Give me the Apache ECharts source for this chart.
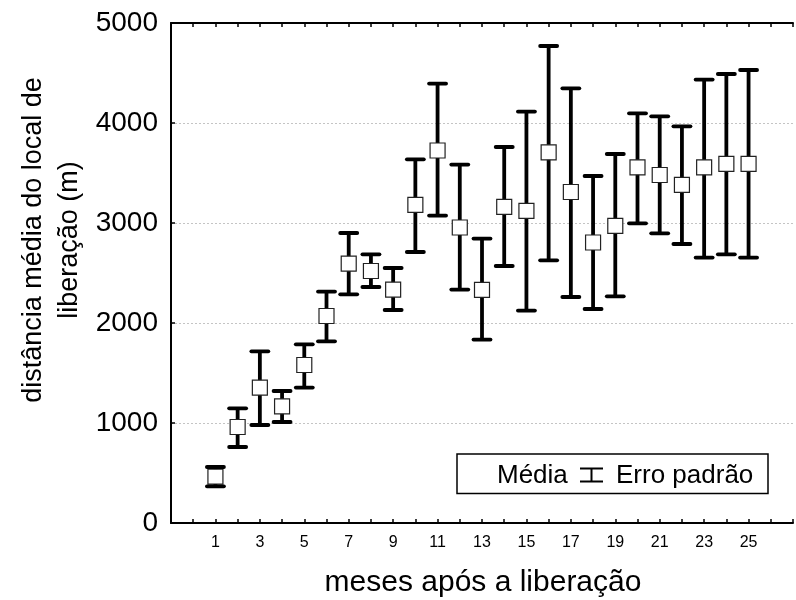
<!DOCTYPE html>
<html>
<head>
<meta charset="utf-8">
<script src="https://cdn.jsdelivr.net/npm/echarts@6/dist/echarts.min.js"></script>
<style>html,body{margin:0;padding:0;background:#fff}#c{width:796px;height:600px}</style>
</head>
<body>
<div id="c"></div>
<script>
const months = [1,2,3,4,5,6,7,8,9,10,11,12,13,14,15,16,17,18,19,20,21,22,23,24,25];
const means = [464, 960, 1354, 1166, 1580, 2070, 2594, 2520, 2334, 3182, 3725, 2955, 2332, 3162, 3122, 3707, 3310, 2805, 2972, 3557, 3480, 3382, 3557, 3592, 3592];
const upper = [560, 1147, 1717, 1320, 1787, 2314, 2900, 2687, 2550, 3637, 4394, 3584, 2844, 3760, 4114, 4770, 4347, 3470, 3690, 4097, 4067, 3967, 4434, 4490, 4530];
const lower = [367, 760, 980, 1010, 1354, 1817, 2287, 2360, 2130, 2710, 3074, 2334, 1834, 2570, 2124, 2627, 2260, 2140, 2267, 2997, 2897, 2790, 2654, 2687, 2654];
const xTickLabels = [1,3,5,7,9,11,13,15,17,19,21,23,25];
const yTicks = [0,1000,2000,3000,4000,5000];
const xTitle = 'meses após a liberação';
const yTitle = 'distância média do local de\nliberação (m)';
const legendMean = 'Média';
const legendErr = 'Erro padrão';

const FONT = '"Liberation Sans", Arial, Helvetica, sans-serif';
const data = months.map((m, i) => [m, means[i], lower[i], upper[i]]);

const chart = echarts.init(document.getElementById('c'), null, {renderer: 'canvas'});

function renderItem(params, api) {
  const x = api.value(0);
  const pM = api.coord([x, api.value(1)]);
  const pLo = api.coord([x, api.value(2)]);
  const pHi = api.coord([x, api.value(3)]);
  const capHalf = 8.5;
  const sq = 15;
  const lineStyle = {stroke: '#000', lineWidth: 3.8, lineCap: 'round'};
  return {
    type: 'group',
    children: [
      {type: 'line', shape: {x1: pHi[0], y1: pHi[1], x2: pLo[0], y2: pLo[1]}, style: {stroke: '#000', lineWidth: 3.8}},
      {type: 'rect', shape: {x: pM[0] - sq / 2, y: pM[1] - sq / 2, width: sq, height: sq}, style: {fill: '#fff', stroke: '#222', lineWidth: 1.2}},
      {type: 'line', shape: {x1: pHi[0] - capHalf, y1: pHi[1], x2: pHi[0] + capHalf, y2: pHi[1]}, style: lineStyle},
      {type: 'line', shape: {x1: pLo[0] - capHalf, y1: pLo[1], x2: pLo[0] + capHalf, y2: pLo[1]}, style: lineStyle}
    ]
  };
}

const axisLineStyle = {color: '#000', width: 2};

chart.setOption({
  animation: false,
  backgroundColor: '#fff',
  textStyle: {fontFamily: FONT},
  grid: {left: 171, right: -10, top: 23, bottom: 77, containLabel: false},
  xAxis: [
    {
      type: 'value', min: -1, max: 27, interval: 1, position: 'bottom',
      axisLine: {show: true, onZero: false, lineStyle: axisLineStyle},
      axisTick: {show: true, inside: true, length: 4, lineStyle: {color: '#000', width: 1.5}},
      axisLabel: {
        show: true, fontSize: 16, color: '#000', fontFamily: FONT, margin: 12,
        showMinLabel: true, showMaxLabel: true,
        formatter: v => xTickLabels.indexOf(v) >= 0 ? String(v) : ''
      },
      splitLine: {show: false}
    },
    {
      type: 'value', min: -1, max: 27, interval: 1, position: 'top',
      axisLine: {show: true, onZero: false, lineStyle: axisLineStyle},
      axisTick: {show: true, inside: true, length: 4, lineStyle: {color: '#000', width: 1.5}},
      axisLabel: {show: false},
      splitLine: {show: false}
    }
  ],
  yAxis: {
    type: 'value', min: yTicks[0], max: yTicks[yTicks.length - 1], interval: 1000,
    axisLine: {show: true, onZero: false, lineStyle: axisLineStyle},
    axisTick: {show: true, inside: true, length: 4, lineStyle: {color: '#000', width: 1.5}},
    axisLabel: {show: true, fontSize: 28, color: '#000', fontFamily: FONT, margin: 13, formatter: v => String(v)},
    splitLine: {show: true, lineStyle: {color: '#c4c4c4', width: 1, type: [2, 2]}}
  },
  series: [{
    type: 'custom',
    xAxisIndex: 0, yAxisIndex: 0,
    renderItem: renderItem,
    data: data,
    clip: false,
    z: 5
  }],
  graphic: [
    {
      type: 'text', x: 52, y: 240, rotation: Math.PI / 2,
      style: {text: yTitle, fill: '#000', font: '27px ' + FONT, align: 'center', verticalAlign: 'middle', lineHeight: 36}
    },
    {
      type: 'text', x: 483, y: 583,
      style: {text: xTitle, fill: '#000', font: '30px ' + FONT, align: 'center', verticalAlign: 'middle'}
    },
    {
      type: 'rect', shape: {x: 457, y: 454, width: 311, height: 39.5},
      style: {fill: '#fff', stroke: '#000', lineWidth: 1.5}, z: 10
    },
    {
      type: 'text', x: 497, y: 475.5, z: 11,
      style: {text: legendMean, fill: '#000', font: '26px ' + FONT, align: 'left', verticalAlign: 'middle'}
    },
    {type: 'line', z: 12, shape: {x1: 580, y1: 468.5, x2: 603, y2: 468.5}, style: {stroke: '#000', lineWidth: 2}},
    {type: 'line', z: 12, shape: {x1: 580, y1: 481.5, x2: 603, y2: 481.5}, style: {stroke: '#000', lineWidth: 2}},
    {type: 'line', z: 12, shape: {x1: 591.5, y1: 468.5, x2: 591.5, y2: 481.5}, style: {stroke: '#000', lineWidth: 2}},
    {
      type: 'text', x: 616, y: 475.5, z: 11,
      style: {text: legendErr, fill: '#000', font: '26px ' + FONT, align: 'left', verticalAlign: 'middle'}
    }
  ]
});
</script>
</body>
</html>
